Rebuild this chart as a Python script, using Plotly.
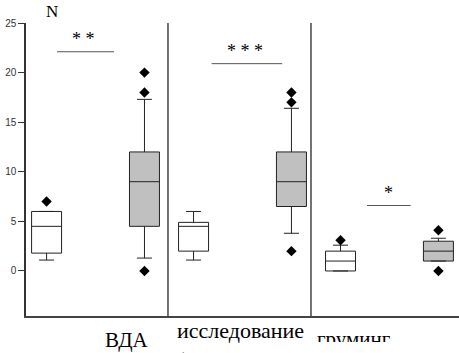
import plotly.graph_objects as go

# ---------------- data ----------------
groups = ["ВДА", "исследование", "груминг"]

ctrl_q1 = [1.8, 2.0, 0.0]
ctrl_med = [4.5, 4.5, 1.0]
ctrl_q3 = [6.0, 4.9, 2.0]
ctrl_low = [1.1, 1.1, 0.0]
ctrl_high = [6.0, 6.0, 2.6]
ctrl_out = [[7.0], [], [3.1]]

trt_q1 = [4.5, 6.5, 1.0]
trt_med = [9.0, 9.0, 2.0]
trt_q3 = [12.0, 12.0, 3.0]
trt_low = [1.3, 3.8, 1.0]
trt_high = [17.3, 16.4, 3.3]
trt_out = [[20.0, 18.0, 0.0], [18.0, 17.0, 2.0], [4.1, 0.0]]

sig_level = [22.1, 20.9, 6.6]
sig_stars = ["* *", "* * *", "*"]

y_ticks = [0, 5, 10, 15, 20, 25]

# ---------------- layout helpers ----------------
pair_off = 0.333
box_w = 0.204
sig_left = [-0.262, -0.21, -0.153]
sig_right = [0.126, 0.27, 0.144]
star_dx = [-0.08, 0.02, -0.01]
dividers = [0.493, 1.466]
x_range = [-0.473, 2.473]
y_range = [-4.54, 25]

LINE = "#222222"
GRAY = "#c0c0c0"

fig = go.Figure()

for i, g in enumerate(groups):
    for pos, q1, med, q3, lo, hi, outs, fill in [
        (i - pair_off, ctrl_q1[i], ctrl_med[i], ctrl_q3[i], ctrl_low[i], ctrl_high[i], ctrl_out[i], "white"),
        (i + pair_off, trt_q1[i], trt_med[i], trt_q3[i], trt_low[i], trt_high[i], trt_out[i], GRAY),
    ]:
        fig.add_trace(go.Box(
            x=[pos], q1=[q1], median=[med], q3=[q3],
            lowerfence=[lo], upperfence=[hi],
            width=box_w, whiskerwidth=0.5,
            fillcolor=fill, line=dict(color=LINE, width=1),
            boxpoints=False, showlegend=False, hoverinfo="skip",
        ))
        if outs:
            fig.add_trace(go.Scatter(
                x=[pos] * len(outs), y=outs, mode="markers",
                marker=dict(symbol="diamond", size=8, color="black"),
                showlegend=False, hoverinfo="skip",
            ))
    # significance bar
    fig.add_shape(type="line", x0=i + sig_left[i], x1=i + sig_right[i],
                  y0=sig_level[i], y1=sig_level[i],
                  line=dict(color="#555555", width=1))
    fig.add_annotation(x=i + star_dx[i], y=sig_level[i], text=sig_stars[i],
                       showarrow=False, yanchor="bottom", yshift=1,
                       font=dict(family="Liberation Serif", size=18, color="black"))

for d in dividers:
    fig.add_shape(type="line", x0=d, x1=d, y0=y_range[0], y1=y_range[1],
                  line=dict(color="#444444", width=1.5))

# category labels
fig.add_annotation(xref="paper", yref="paper", x=(103 - 26) / 433, y=-(340 - 316) / 293,
                   text=groups[0], showarrow=False, yanchor="middle",
                   font=dict(family="Liberation Serif", size=21, color="black"))
fig.add_annotation(xref="paper", yref="paper", x=(175 - 26) / 433, y=-(316 - 316) / 293,
                   text=groups[1] + "<br>(", showarrow=False, yanchor="top", xanchor="left",
                   align="left",
                   font=dict(family="Liberation Serif", size=22, color="black"))
fig.add_annotation(xref="paper", yref="paper", x=(393 - 26) / 433, y=-(325 - 316) / 293,
                   text=groups[2], showarrow=False, yanchor="top",
                   font=dict(family="Liberation Serif", size=21, color="black"))
# page-edge crop of last label as in the source scan
fig.add_annotation(xref="paper", yref="paper", x=(393 - 26) / 433, y=-(342 - 316) / 293,
                   text=" ", showarrow=False, yanchor="top", width=110, height=16,
                   bgcolor="white", borderpad=0, borderwidth=0)

fig.add_annotation(xref="paper", yref="paper", x=(44 - 26) / 433, y=1 + (23 - 11) / 293,
                   text="N", showarrow=False, yanchor="middle",
                   font=dict(family="Liberation Serif", size=17, color="black"))

fig.update_layout(
    width=459, height=353,
    margin=dict(l=26, r=0, t=23, b=37),
    paper_bgcolor="white", plot_bgcolor="white",
    boxmode="overlay",
    xaxis=dict(range=x_range, showgrid=False, zeroline=False, showticklabels=False,
               ticks="", showline=True, linecolor="#444444", linewidth=2, fixedrange=True),
    yaxis=dict(range=y_range, tickvals=y_ticks, showgrid=False, zeroline=False,
               ticks="outside", ticklen=6, tickcolor="#333333", tickwidth=1,
               showline=True, linecolor="#333333", linewidth=1.5,
               tickfont=dict(family="Liberation Sans", size=10, color="#333333")),
)

fig.write_html(
    "out.html",
    config={"displayModeBar": False},
    post_script="document.body.style.margin='0';document.body.style.overflow='hidden';",
)
